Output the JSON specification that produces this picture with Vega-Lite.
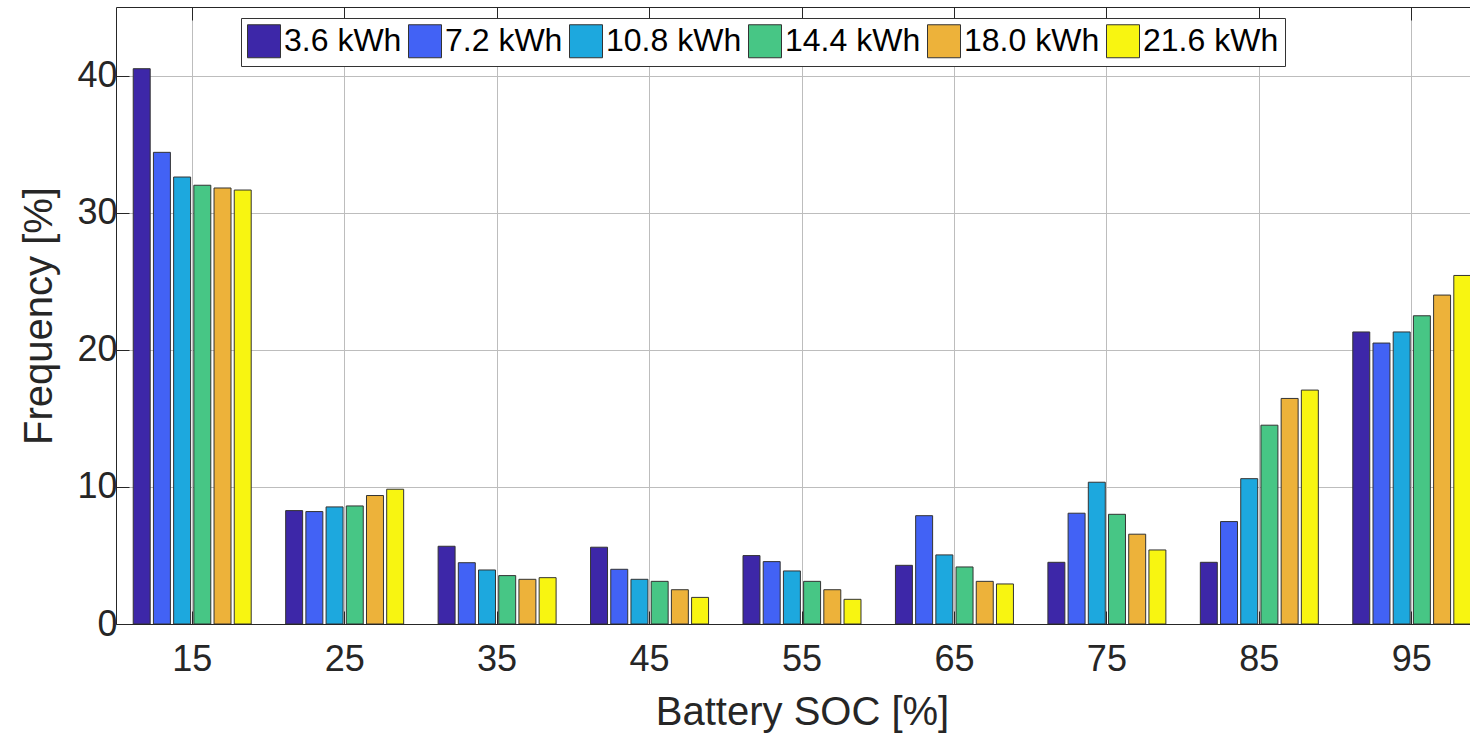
{
  "$schema": "https://vega.github.io/schema/vega-lite/v6.json",
  "width": 1354,
  "height": 617,
  "autosize": {"type": "none"},
  "padding": {"left": 116, "top": 7, "right": 0, "bottom": 112},
  "background": "white",
  "config": {
    "view": {"stroke": null},
    "font": "Liberation Sans",
    "axis": {"domainColor": "#262626", "tickColor": "#262626", "labelColor": "#262626", "titleColor": "#262626", "titleFontWeight": "normal", "gridColor": "#bdbdbd", "gridWidth": 1}
  },
  "data": {
    "values": [
      {"soc": 15, "cap": "3.6 kWh", "freq": 40.5}, {"soc": 15, "cap": "7.2 kWh", "freq": 34.4}, {"soc": 15, "cap": "10.8 kWh", "freq": 32.6}, {"soc": 15, "cap": "14.4 kWh", "freq": 32.0}, {"soc": 15, "cap": "18.0 kWh", "freq": 31.8}, {"soc": 15, "cap": "21.6 kWh", "freq": 31.65},
      {"soc": 25, "cap": "3.6 kWh", "freq": 8.27}, {"soc": 25, "cap": "7.2 kWh", "freq": 8.2}, {"soc": 25, "cap": "10.8 kWh", "freq": 8.54}, {"soc": 25, "cap": "14.4 kWh", "freq": 8.61}, {"soc": 25, "cap": "18.0 kWh", "freq": 9.37}, {"soc": 25, "cap": "21.6 kWh", "freq": 9.83},
      {"soc": 35, "cap": "3.6 kWh", "freq": 5.67}, {"soc": 35, "cap": "7.2 kWh", "freq": 4.47}, {"soc": 35, "cap": "10.8 kWh", "freq": 3.94}, {"soc": 35, "cap": "14.4 kWh", "freq": 3.53}, {"soc": 35, "cap": "18.0 kWh", "freq": 3.26}, {"soc": 35, "cap": "21.6 kWh", "freq": 3.38},
      {"soc": 45, "cap": "3.6 kWh", "freq": 5.6}, {"soc": 45, "cap": "7.2 kWh", "freq": 3.99}, {"soc": 45, "cap": "10.8 kWh", "freq": 3.26}, {"soc": 45, "cap": "14.4 kWh", "freq": 3.11}, {"soc": 45, "cap": "18.0 kWh", "freq": 2.5}, {"soc": 45, "cap": "21.6 kWh", "freq": 1.94},
      {"soc": 55, "cap": "3.6 kWh", "freq": 4.99}, {"soc": 55, "cap": "7.2 kWh", "freq": 4.55}, {"soc": 55, "cap": "10.8 kWh", "freq": 3.87}, {"soc": 55, "cap": "14.4 kWh", "freq": 3.11}, {"soc": 55, "cap": "18.0 kWh", "freq": 2.5}, {"soc": 55, "cap": "21.6 kWh", "freq": 1.8},
      {"soc": 65, "cap": "3.6 kWh", "freq": 4.28}, {"soc": 65, "cap": "7.2 kWh", "freq": 7.9}, {"soc": 65, "cap": "10.8 kWh", "freq": 5.04}, {"soc": 65, "cap": "14.4 kWh", "freq": 4.16}, {"soc": 65, "cap": "18.0 kWh", "freq": 3.11}, {"soc": 65, "cap": "21.6 kWh", "freq": 2.92},
      {"soc": 75, "cap": "3.6 kWh", "freq": 4.5}, {"soc": 75, "cap": "7.2 kWh", "freq": 8.08}, {"soc": 75, "cap": "10.8 kWh", "freq": 10.34}, {"soc": 75, "cap": "14.4 kWh", "freq": 8.0}, {"soc": 75, "cap": "18.0 kWh", "freq": 6.55}, {"soc": 75, "cap": "21.6 kWh", "freq": 5.4},
      {"soc": 85, "cap": "3.6 kWh", "freq": 4.5}, {"soc": 85, "cap": "7.2 kWh", "freq": 7.47}, {"soc": 85, "cap": "10.8 kWh", "freq": 10.6}, {"soc": 85, "cap": "14.4 kWh", "freq": 14.5}, {"soc": 85, "cap": "18.0 kWh", "freq": 16.45}, {"soc": 85, "cap": "21.6 kWh", "freq": 17.06},
      {"soc": 95, "cap": "3.6 kWh", "freq": 21.3}, {"soc": 95, "cap": "7.2 kWh", "freq": 20.49}, {"soc": 95, "cap": "10.8 kWh", "freq": 21.3}, {"soc": 95, "cap": "14.4 kWh", "freq": 22.48}, {"soc": 95, "cap": "18.0 kWh", "freq": 23.99}, {"soc": 95, "cap": "21.6 kWh", "freq": 25.42}
    ]
  },
  "layer": [
    {
      "mark": {"type": "bar", "stroke": "#333333", "strokeWidth": 1, "clip": true},
      "encoding": {
        "x": {
          "field": "soc", "type": "ordinal",
          "scale": {"range": [0, 1372], "paddingInner": 0.226, "paddingOuter": 0.113},
          "axis": {"orient": "bottom", "labelAngle": 0, "labelFontSize": 36, "labelPadding": 31, "tickSize": -13, "grid": true, "bandPosition": 0.5, "title": "Battery SOC [%]", "titleFontSize": 40, "titlePadding": 15}
        },
        "xOffset": {
          "field": "cap", "type": "nominal",
          "sort": ["3.6 kWh", "7.2 kWh", "10.8 kWh", "14.4 kWh", "18.0 kWh", "21.6 kWh"],
          "scale": {"paddingInner": 0.16, "paddingOuter": 0}
        },
        "y": {
          "field": "freq", "type": "quantitative",
          "scale": {"domain": [0, 45], "nice": false},
          "axis": {"values": [0, 10, 20, 30, 40], "labelFontSize": 36, "labelPadding": 12, "tickSize": -13, "grid": true, "title": "Frequency [%]", "titleFontSize": 40, "titlePadding": 17}
        },
        "color": {
          "field": "cap", "type": "nominal",
          "scale": {"domain": ["3.6 kWh", "7.2 kWh", "10.8 kWh", "14.4 kWh", "18.0 kWh", "21.6 kWh"], "range": ["#3D27A8", "#4262F5", "#1DA8DE", "#47C685", "#EDB23A", "#F8F511"]},
          "legend": {
            "orient": "none", "legendX": 125, "legendY": 11, "direction": "horizontal", "columns": 6,
            "title": null, "symbolType": "square", "symbolSize": 1089, "symbolStrokeColor": "#333333", "symbolStrokeWidth": 1, "symbolOpacity": 1,
            "labelFontSize": 32, "labelColor": "#000000", "labelOffset": 3, "columnPadding": 4, "padding": 6,
            "strokeColor": "#333333", "fillColor": "white", "labelLimit": 400
          }
        }
      }
    },
    {
      "mark": {"type": "tick", "opacity": 0},
      "encoding": {
        "x": {
          "field": "soc", "type": "ordinal",
          "axis": {"orient": "top", "labels": false, "tickSize": -13, "grid": false, "title": null, "bandPosition": 0.5}
        }
      }
    }
  ],
  "resolve": {"axis": {"x": "independent"}}
}
